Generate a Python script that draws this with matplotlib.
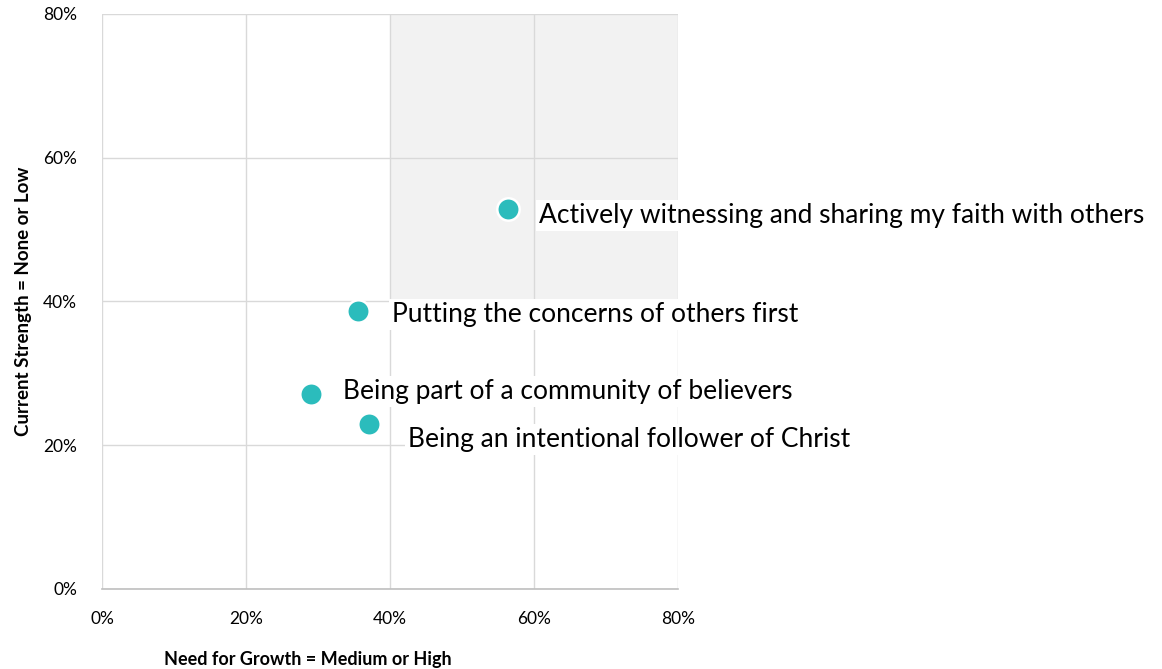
import matplotlib
matplotlib.use("Agg")
import matplotlib.pyplot as plt
from matplotlib.ticker import FuncFormatter

plt.rcParams['font.family'] = ['Lato', 'DejaVu Sans']

labels = [
    "Actively witnessing and sharing my faith with others",
    "Putting the concerns of others first",
    "Being part of a community of believers",
    "Being an intentional follower of Christ",
]
need_for_growth = [56.4, 35.6, 29.0, 37.1]
current_strength = [52.9, 38.7, 27.1, 23.0]
label_offsets = [(31, -7), (34, -4), (32, 3), (39, -16)]  # pixel offsets

ticks = [0, 20, 40, 60, 80]

fig = plt.figure(figsize=(11.62, 6.69), dpi=100)
ax = fig.add_axes([0.0878, 0.1196, 0.4957, 0.8595])
ax.set_xlim(0, 80)
ax.set_ylim(0, 80)

ax.axvspan(40, 80, ymin=0.5, ymax=1.0, color='#F2F2F2', zorder=0, lw=0)

ax.set_xticks(ticks)
ax.set_yticks(ticks)
fmt = FuncFormatter(lambda v, p: f"{int(v)}%")
ax.xaxis.set_major_formatter(fmt)
ax.yaxis.set_major_formatter(fmt)
ax.grid(True, color='#D9D9D9', lw=1.0, zorder=1)
ax.set_axisbelow(True)
for s in ['top', 'right', 'left']:
    ax.spines[s].set_visible(False)
ax.spines['bottom'].set_color('#BFBFBF')
ax.spines['bottom'].set_linewidth(1.2)
ax.tick_params(length=0, labelsize=12.5, colors='#000000')
ax.tick_params(axis='x', pad=16)
ax.tick_params(axis='y', pad=18)

ax.scatter(need_for_growth, current_strength, s=260, color='#2BBCBC',
           edgecolors='white', linewidths=1.8, zorder=3)

for x, y, lab, (dx, dy) in zip(need_for_growth, current_strength, labels, label_offsets):
    ax.annotate(lab, (x, y), xytext=(dx * 0.72, dy * 0.72), textcoords='offset points',
                ha='left', va='center', fontsize=19,
                bbox=dict(boxstyle='square,pad=0.12', fc='white', ec='none'),
                zorder=4, annotation_clip=False)

ax.set_xlabel("Need for Growth = Medium or High", fontsize=13, fontweight='bold', labelpad=14)
ax.xaxis.set_label_coords(0.358, -0.107)
ax.set_ylabel("Current Strength = None or Low", fontsize=13.5, fontweight='bold', labelpad=8)

fig.savefig("out.png", dpi=100, facecolor='white')
